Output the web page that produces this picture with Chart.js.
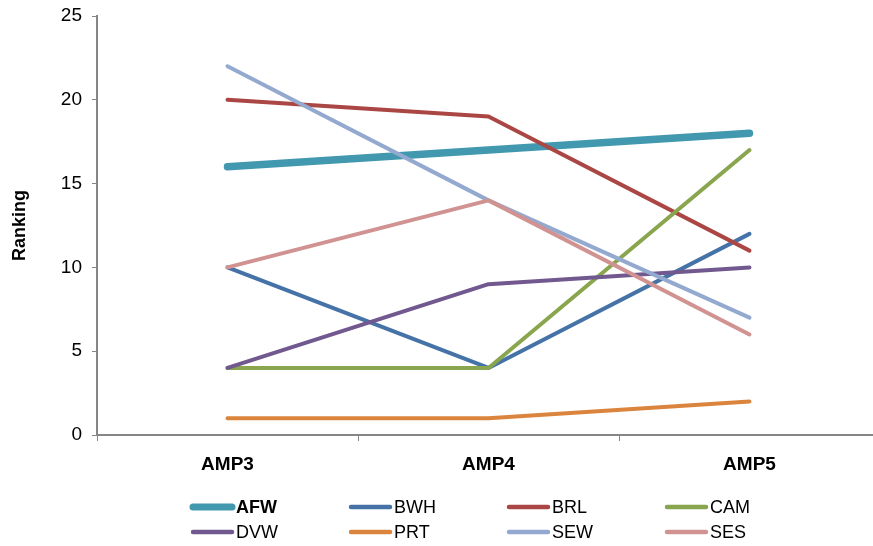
<!DOCTYPE html>
<html>
<head>
<meta charset="utf-8">
<script src="https://cdn.jsdelivr.net/npm/chart.js@4"></script>
<style>
  html, body { margin: 0; padding: 0; background: #fff; overflow: hidden; }
  #wrap { width: 873px; height: 546px; overflow: hidden; }
</style>
</head>
<body>
<div id="wrap"><canvas id="chart" width="883" height="546"></canvas></div>
<script>
const rounds = ['AMP3', 'AMP4', 'AMP5'];

const afw = [16, 17, 18];
const bwh = [10, 4, 12];
const brl = [20, 19, 11];
const cam = [4, 4, 17];
const dvw = [4, 9, 10];
const prt = [1, 1, 2];
const sew = [22, 14, 7];
const ses = [10, 14, 6];

const seriesNames = ['AFW', 'BWH', 'BRL', 'CAM', 'DVW', 'PRT', 'SEW', 'SES'];
const seriesData = [afw, bwh, brl, cam, dvw, prt, sew, ses];
const colors = ['#4198AF', '#4572A7', '#AA4643', '#89A54E', '#71588F', '#DB843D', '#93A9CF', '#D19392'];

const FONT = "'Liberation Sans', Arial, sans-serif";

// legend drawn as a 4 column grid under the axis, like the original
const gridLegend = {
  id: 'gridLegend',
  afterDraw(chart) {
    const ctx = chart.ctx;
    ctx.save();
    chart.data.datasets.forEach((ds, i) => {
      const col = i % 4;
      const row = Math.floor(i / 4);
      const x = 191 + col * 158;
      const y = 507 + row * 25;
      ctx.strokeStyle = ds.borderColor;
      ctx.lineWidth = i === 0 ? 7 : 4.5;
      ctx.lineCap = 'round';
      ctx.beginPath();
      ctx.moveTo(x + 2, y);
      ctx.lineTo(x + 41, y);
      ctx.stroke();
      ctx.fillStyle = '#000';
      ctx.font = (i === 0 ? 'bold ' : '') + '18px ' + FONT;
      ctx.textBaseline = 'middle';
      ctx.textAlign = 'left';
      ctx.fillText(ds.label, x + 45, y + 1);
    });
    ctx.restore();
  }
};

new Chart(document.getElementById('chart'), {
  type: 'line',
  data: {
    labels: rounds,
    datasets: seriesNames.map((name, i) => ({
      label: name,
      data: seriesData[i],
      borderColor: colors[i],
      backgroundColor: colors[i],
      borderWidth: i === 0 ? 7.5 : 4,
      borderCapStyle: 'round',
      borderJoinStyle: 'round',
      pointRadius: 0,
      tension: 0,
      fill: false,
      order: -i
    }))
  },
  options: {
    responsive: false,
    animation: false,
    layout: { padding: { top: 16, right: 3, left: 0, bottom: 0 } },
    plugins: {
      legend: { display: false },
      tooltip: { enabled: false }
    },
    scales: {
      x: {
        offset: true,
        afterFit: scale => { scale.height = 111; },
        grid: {
          offset: true,
          drawOnChartArea: false,
          drawTicks: true,
          tickLength: 6,
          color: '#868686'
        },
        border: { color: '#868686', width: 2 },
        ticks: {
          color: '#000',
          padding: 12,
          font: { family: FONT, size: 19, weight: 'bold' }
        }
      },
      y: {
        min: 0,
        max: 25,
        afterFit: scale => {
          scale.width = 97;
          scale.paddingTop = 0;
          scale.paddingBottom = 0;
        },
        ticks: {
          stepSize: 5,
          color: '#000',
          padding: 10,
          font: { family: FONT, size: 19 }
        },
        grid: {
          drawOnChartArea: false,
          drawTicks: true,
          tickLength: 5,
          color: '#868686'
        },
        border: { color: '#868686', width: 2 },
        title: {
          display: true,
          text: 'Ranking',
          color: '#000',
          padding: { top: 9, bottom: 0 },
          font: { family: FONT, size: 18, weight: 'bold' }
        }
      }
    }
  },
  plugins: [gridLegend]
});
</script>
</body>
</html>
